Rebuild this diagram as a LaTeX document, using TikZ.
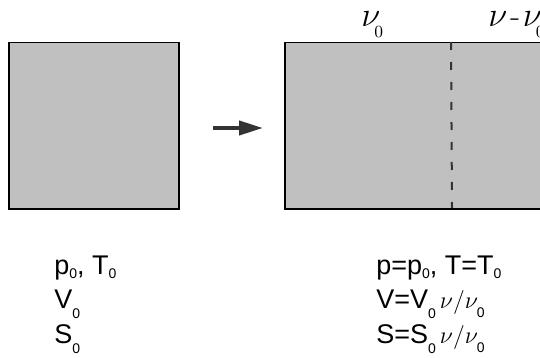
\documentclass[tikz,border=0pt]{standalone}
\usepackage{fontspec}
\setsansfont{Liberation Sans}
\usetikzlibrary{arrows.meta}
\definecolor{boxgray}{RGB}{192,192,192}
\definecolor{darkline}{RGB}{51,51,51}
\tikzstyle{gasbox} = [rectangle, draw=black, line width=0.75pt, fill=boxgray,
                      inner sep=0pt, anchor=north west]
\tikzstyle{statetext} = [inner sep=0pt, anchor=base west,
                         font=\sffamily\fontsize{13.5}{16}\selectfont]
\tikzstyle{moletext} = [inner sep=0pt, anchor=base west,
                        font=\fontsize{16}{16}\selectfont]
\tikzstyle{partition} = [draw=darkline, line width=1pt,
                         dash pattern=on 4pt off 6pt]
\tikzstyle{arrow} = [line width=2pt, darkline, -{Triangle[length=12pt,width=7pt]}]
% subscript of the state variables
\newcommand{\lo}[2][2pt]{\raisebox{-#1}{\fontsize{7}{8}\selectfont #2}}
% small ratio nu/nu_0
\newcommand{\ratio}{\kern2pt{\fontsize{12}{12}\selectfont$\nu/\nu$}\kern-0.5pt\lo[4.5pt]{0}}

\begin{document}
\begin{tikzpicture}[x=0.5pt, y=-0.5pt]
\useasboundingbox (0,0) rectangle (540,358);
\clip (0,0) rectangle (540,358);
% the two boxes
\node [gasbox, minimum width=85pt, minimum height=83pt] (before) at (8,42) {};
\node [gasbox, minimum width=150pt, minimum height=83pt] (after) at (284,42) {};
\coordinate (wall top) at (451,42);
\coordinate (wall bottom) at (452,208);
\draw [partition] (wall top) -- (wall bottom);
% the process arrow
\coordinate (push start) at (213,128);
\coordinate (push end) at (263,128);
\draw [arrow] (push start) -- (push end);
% amounts above the right box
\node [moletext] (nu zero) at (361,27)
	{$\nu$\kern-3pt\raisebox{-5.5pt}{\fontsize{8.5}{9}\selectfont 0}};
\node [moletext] (nu rest) at (488,27)
	{$\nu$\kern1.5pt-\kern1.5pt$\nu$\kern-3pt\raisebox{-5.5pt}{\fontsize{8.5}{9}\selectfont 0}};
% state before
\node [statetext] (pT before) at (54,274) {p\lo{0}, T\lo{0}};
\node [statetext] (V before) at (54,308) {V\lo[5pt]{0}};
\node [statetext] (S before) at (54,343) {S\lo[5pt]{0}};
% state after
\node [statetext] (pT after) at (376,274) {p=p\lo{0}, T=T\lo{0}};
\node [statetext] (V after) at (376,308) {V=V\lo[5pt]{0}\ratio};
\node [statetext] (S after) at (376,343) {S=S\lo[5pt]{0}\ratio};
\end{tikzpicture}
\end{document}
